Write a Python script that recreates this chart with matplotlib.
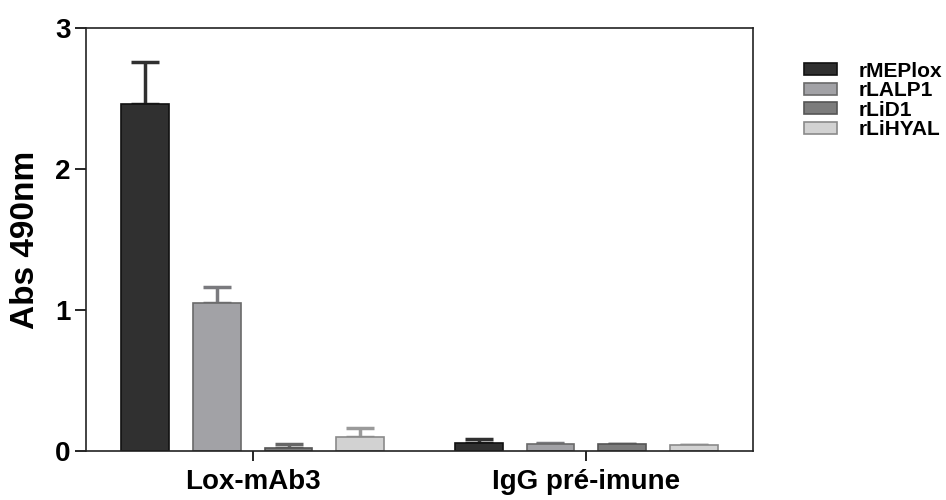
import matplotlib
matplotlib.use("Agg")
import matplotlib.pyplot as plt
import numpy as np

plt.rcParams['font.family'] = ['Liberation Sans', 'DejaVu Sans']
plt.rcParams['font.weight'] = 'bold'

groups = ["Lox-mAb3", "IgG pré-imune"]
series = ["rMEPlox", "rLALP1", "rLiD1", "rLiHYAL"]
values = {
    "rMEPlox": [2.46, 0.06],
    "rLALP1": [1.05, 0.05],
    "rLiD1": [0.02, 0.05],
    "rLiHYAL": [0.10, 0.04],
}
errors = {
    "rMEPlox": [0.30, 0.025],
    "rLALP1": [0.11, 0.01],
    "rLiD1": [0.03, 0.0],
    "rLiHYAL": [0.06, 0.0],
}
colors = ["#303030", "#a2a2a6", "#7c7c7c", "#d2d2d2"]
edges = ["#111111", "#6a6a6a", "#555555", "#8a8a8a"]
ecolors = ["#303030", "#7a7a7e", "#666666", "#9a9a9a"]

fig = plt.figure(figsize=(9.46, 5.0), dpi=100)
ax = fig.add_axes([86/946, 1 - 451/500, (753-86)/946, (451-28)/500])

x = np.arange(len(groups))
w = 0.143
step = 0.215
for i, s in enumerate(series):
    pos = x + (i - 1.5) * step
    ax.bar(pos, values[s], width=w, color=colors[i], edgecolor=edges[i],
           linewidth=1.2, label=s, zorder=2)
    ax.errorbar(pos, values[s], yerr=[np.zeros(len(groups)), errors[s]],
                fmt='none', ecolor=ecolors[i], elinewidth=2.5, capsize=10,
                capthick=2.5, zorder=1)

ax.set_xlim(-0.5, 1.5)
ax.set_ylim(0, 3)
ax.set_yticks([0, 1, 2, 3])
ax.set_xticks(x)
ax.set_xticklabels(groups, fontsize=20, fontweight='bold')
ax.tick_params(axis='y', labelsize=20, length=8, width=1.2, direction='out', pad=3)
ax.tick_params(axis='x', length=7, width=1.2, direction='out', pad=6)
for lab in ax.get_yticklabels():
    lab.set_fontweight('bold')
ax.set_ylabel("Abs 490nm", fontsize=24, fontweight='bold', labelpad=10)
for sp in ax.spines.values():
    sp.set_linewidth(1.2)
    sp.set_color('#222222')

leg = fig.legend(loc='upper left', bbox_to_anchor=(785/946, 1 - 43/500),
                 frameon=False, fontsize=15, labelspacing=0.02,
                 handlelength=1.6, handleheight=0.5, handletextpad=1.05)
for t in leg.get_texts():
    t.set_fontweight('bold')

fig.savefig("out.png", dpi=100)
